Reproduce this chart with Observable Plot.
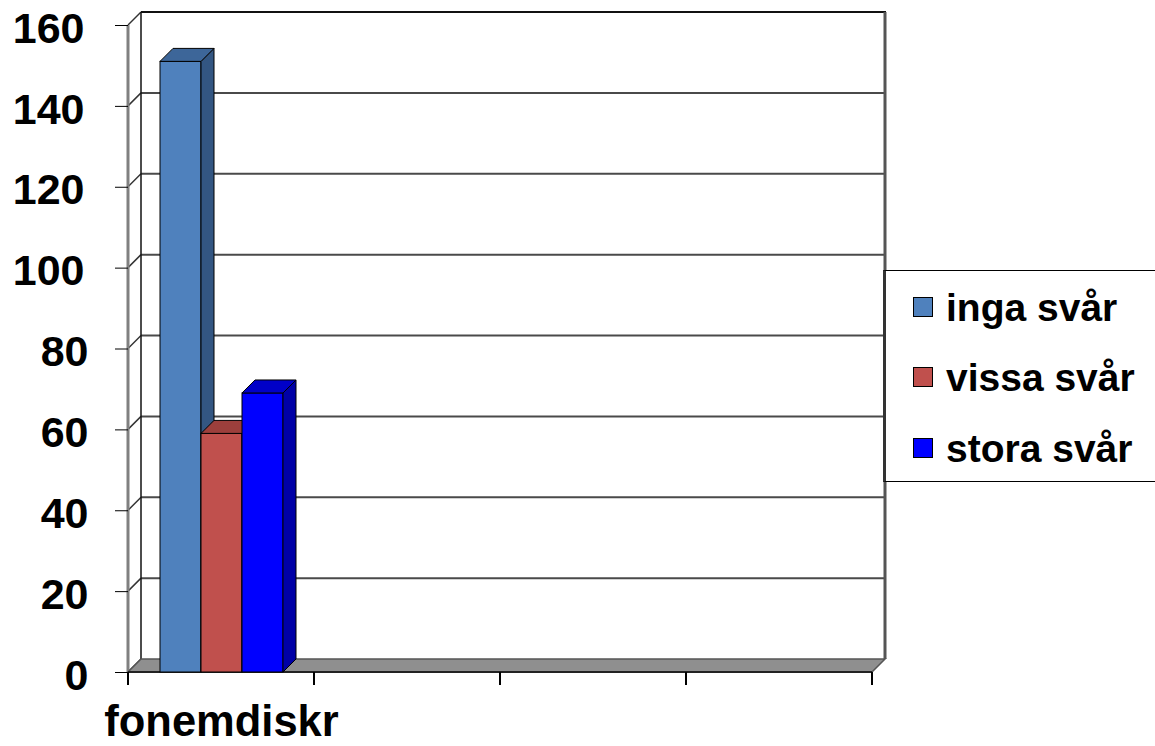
<!DOCTYPE html>
<html><head><meta charset="utf-8">
<script src="https://cdn.jsdelivr.net/npm/d3@7"></script>
<script src="https://cdn.jsdelivr.net/npm/@observablehq/plot@0.6"></script>
<style>
body{margin:0;background:#fff;font-family:"Liberation Sans",Arial,sans-serif;}
#wrap{position:relative;width:1155px;height:746px;overflow:hidden;}
#legend{position:absolute;left:883px;top:270px;width:300px;height:212px;background:#fff;border:1.5px solid #000;border-left:3px solid #333;box-sizing:border-box;}
.item{position:absolute;left:27px;height:40px;display:flex;align-items:center;font-weight:bold;font-size:39px;color:#000;white-space:nowrap;line-height:1;}
.sw{width:20px;height:20px;border:1px solid #000;box-sizing:border-box;margin-right:13px;flex:none;}
g[aria-label^="fx-axis"] text{font-size:43.5px;}
</style>
</head><body>
<div id="wrap"><div id="legend"></div></div>
<script>
// ---- data ----
const categories = ["fonemdiskr", "", "", ""];
const series = ["inga svår", "vissa svår", "stora svår"];
const values = [151, 59, 69];
const yTicks = [0, 20, 40, 60, 80, 100, 120, 140, 160];

// ---- styles ----
const frontColors = ["#4F81BD", "#C0504D", "#0000FF"];
const topColors = ["#3D6699", "#9C3F3C", "#0000C8"];
const sideColors = ["#335682", "#8A3533", "#0000A6"];
const D = 13;

const rows = series.map((s, i) => ({slot: 0, series: s, value: values[i]}));

const plot = Plot.plot({
  width: 1155, height: 746,
  marginLeft: 128, marginRight: 283, marginTop: 25, marginBottom: 74,
  facet: {data: rows, x: "slot"},
  fx: {domain: categories.map((_, i) => i), padding: 0, axis: "bottom", tickSize: 0, tickPadding: 33, tickFormat: i => categories[i], label: null},
  x: {domain: series, paddingInner: 0, paddingOuter: 0.75, axis: null},
  y: {domain: [0, 160], ticks: yTicks, tickSize: 13, tickPadding: 27, label: null},
  color: {domain: series, range: frontColors},
  style: {fontFamily: '"Liberation Sans", Arial, sans-serif', fontSize: "43px", fontWeight: "bold", color: "#000", background: "transparent", overflow: "visible"},
  marks: [
    Plot.barY(rows, {x: "series", y: "value", fill: "series", stroke: "#000", strokeWidth: 1})
  ]
});
document.getElementById("wrap").prepend(plot);

// ---- 3D decoration via Plot's scales ----
const ysc = plot.scale("y");
const ys = d3.scaleLinear(ysc.domain, ysc.range);
const fxs = plot.scale("fx");
const x0 = fxs.range[0], x1 = fxs.range[1], n = fxs.domain.length;
const yTop = ys(160), yBot = ys(0);
const svg = d3.select(plot);
const g = svg.insert("g", ":first-child").attr("aria-label", "walls");

// left wall diagonals
yTicks.forEach(t => {
  g.append("line").attr("x1", x0).attr("y1", ys(t)).attr("x2", x0 + D).attr("y2", ys(t) - D)
    .attr("stroke", "#333").attr("stroke-width", 1.5);
});
// back wall gridlines
yTicks.filter(t => t > 0 && t < 160).forEach(t => {
  g.append("line").attr("x1", x0 + D).attr("y1", ys(t) - D).attr("x2", x1 + D).attr("y2", ys(t) - D)
    .attr("stroke", "#4a4a4a").attr("stroke-width", 2);
});
// top border
g.append("line").attr("x1", x0 + D).attr("y1", yTop - D).attr("x2", x1 + D + 1).attr("y2", yTop - D)
  .attr("stroke", "#111").attr("stroke-width", 2);
// back-left edge
g.append("line").attr("x1", x0 + D).attr("y1", yTop - D).attr("x2", x0 + D).attr("y2", yBot - D)
  .attr("stroke", "#111").attr("stroke-width", 1.5);
// right edge of back wall
g.append("line").attr("x1", x1 + D).attr("y1", yTop - D).attr("x2", x1 + D).attr("y2", yBot - D)
  .attr("stroke", "#555").attr("stroke-width", 3);
// front-left axis line
g.append("line").attr("x1", x0).attr("y1", yTop).attr("x2", x0).attr("y2", yBot)
  .attr("stroke", "#808080").attr("stroke-width", 3);
// floor
g.append("polygon")
  .attr("points", [[x0, yBot], [x1, yBot], [x1 + D, yBot - D], [x0 + D, yBot - D]].map(p => p.join(",")).join(" "))
  .attr("fill", "#8f8f8f").attr("stroke", "#555").attr("stroke-width", 1.5);
g.append("line").attr("x1", x0).attr("y1", yBot).attr("x2", x1).attr("y2", yBot)
  .attr("stroke", "#222").attr("stroke-width", 2);
// category boundary ticks
for (let i = 0; i <= n; i++) {
  const bx = x0 + i * (x1 - x0) / n;
  svg.append("line").attr("x1", bx).attr("y1", yBot).attr("x2", bx).attr("y2", yBot + 13)
    .attr("stroke", "#000").attr("stroke-width", 2);
}

// bar top & side faces
svg.selectAll('g[aria-label="bar"] rect').each(function(d, k) {
  const idx = typeof d === "number" ? series.indexOf(rows[d].series) : k;
  const x = +this.getAttribute("x"), y = +this.getAttribute("y");
  const w = +this.getAttribute("width"), h = +this.getAttribute("height");
  const ns = "http://www.w3.org/2000/svg";
  const side = document.createElementNS(ns, "polygon");
  side.setAttribute("points", `${x + w},${y} ${x + w + D},${y - D} ${x + w + D},${y + h - D} ${x + w},${y + h}`);
  side.setAttribute("fill", sideColors[idx]); side.setAttribute("stroke", "#000"); side.setAttribute("stroke-width", 1);
  const top = document.createElementNS(ns, "polygon");
  top.setAttribute("points", `${x},${y} ${x + D},${y - D} ${x + w + D},${y - D} ${x + w},${y}`);
  top.setAttribute("fill", topColors[idx]); top.setAttribute("stroke", "#000"); top.setAttribute("stroke-width", 1);
  this.after(side); side.after(top);
});
// y tick label adjust (Excel places 3-digit labels slightly further left)
svg.selectAll('g[aria-label^="y-axis"] text')
  .attr("dy", "0.08em")
  .attr("dx", function() { return this.textContent.length >= 3 ? -4 : 0; });

// ---- legend ----
const legend = document.getElementById("legend");
const rowCenters = [36, 106, 177];
series.forEach((s, i) => {
  const it = document.createElement("div");
  it.className = "item";
  it.style.top = (rowCenters[i] - 20) + "px";
  it.innerHTML = `<div class="sw" style="background:${frontColors[i]}"></div><span>${s}</span>`;
  legend.appendChild(it);
});
</script>
</body></html>
